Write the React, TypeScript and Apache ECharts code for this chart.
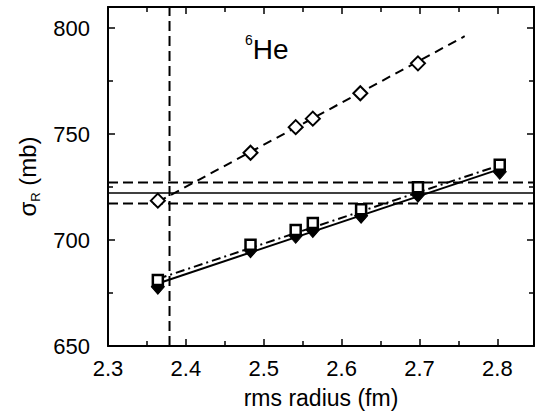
import React, { useEffect, useRef } from "react";
import * as echarts from "echarts";

// Axis ranges / ticks
const xRange = [2.3, 2.847];
const yRange = [650, 810];
const xTickStep = 0.1;
const yTickStep = 50;
const xMajorTicks = [2.3, 2.4, 2.5, 2.6, 2.7, 2.8];
const xMinorTicks = [2.35, 2.45, 2.55, 2.65, 2.75];
const yMajorTicks = [650, 700, 750, 800];
const yMinorTicks = [675, 725, 775];

// Open diamonds (dashed fit)
const radiusOpen = [2.364, 2.483, 2.541, 2.563, 2.624, 2.698];
const sigmaOpenDiamond = [718.6, 741.2, 753.3, 757.3, 769.3, 783.4];

// Open squares (dash-dot fit) and filled diamonds (solid fit)
const radiusClosed = [2.364, 2.483, 2.541, 2.563, 2.625, 2.698, 2.803];
const sigmaSquare = [681.1, 697.8, 704.8, 708.0, 714.6, 724.9, 735.6];
const sigmaFilledDiamond = [678.0, 695.2, 702.0, 704.8, 711.5, 721.4, 732.2];

// Straight fit lines (end points)
const fitOpenX = [2.364, 2.758];
const fitOpenY = [718.0, 796.2];
const fitSquareX = [2.364, 2.803];
const fitSquareY = [681.7, 735.3];
const fitFilledX = [2.364, 2.803];
const fitFilledY = [679.5, 733.5];

// Experimental cross section band (lower, central, upper) and extracted radius
const sigmaExp = [717.3, 722.2, 727.2];
const radiusExtracted = [2.379];

const FONT = "'Liberation Sans', Arial, Helvetica, sans-serif";

// Tick lengths expressed in axis units (about 7 px major, 5 px minor)
const GRID = { left: 108, right: 3, top: 7, bottom: 68 };
const PLOT_W = 537 - GRID.left - GRID.right;
const PLOT_H = 414 - GRID.top - GRID.bottom;
const Y_PER_PX = (yRange[1] - yRange[0]) / PLOT_H;
const X_PER_PX = (xRange[1] - xRange[0]) / PLOT_W;

const zip = (xs: number[], ys: number[]) => xs.map((x, i) => [x, ys[i]]);

const mkLine = () => ({ show: true, onZero: false, lineStyle: { color: "#000", width: 2 } });

export default function App() {
  const ref = useRef<HTMLDivElement>(null);
  useEffect(() => {
    if (!ref.current) return;
    const chart = echarts.init(ref.current, undefined, { renderer: "svg" });
    const xFmt = (v: number) => {
      const k = Math.round((v - xRange[0]) / xTickStep);
      return Math.abs(xRange[0] + k * xTickStep - v) < 1e-6 ? v.toFixed(1) : "";
    };
    const yFmt = (v: number) => (v % yTickStep === 0 ? String(v) : "");

    const tickSegs: any[] = [];
    const addX = (v: number, px: number) => {
      const d = px * Y_PER_PX;
      tickSegs.push([{ coord: [v, yRange[0]] }, { coord: [v, yRange[0] + d] }]);
      tickSegs.push([{ coord: [v, yRange[1]] }, { coord: [v, yRange[1] - d] }]);
    };
    const addY = (v: number, px: number) => {
      const d = px * X_PER_PX;
      tickSegs.push([{ coord: [xRange[0], v] }, { coord: [xRange[0] + d, v] }]);
      tickSegs.push([{ coord: [xRange[1], v] }, { coord: [xRange[1] - d, v] }]);
    };
    xMajorTicks.forEach((v) => addX(v, 7));
    xMinorTicks.forEach((v) => addX(v, 5));
    yMajorTicks.forEach((v) => addY(v, 7));
    yMinorTicks.forEach((v) => addY(v, 5));

    const hLine = (y: number) => [[xRange[0], y], [xRange[1], y]];
    const refLine = (name: string, data: number[][], type: any, width: number) => ({
      type: "line", name, data, showSymbol: false, symbol: "none", silent: true, z: 2,
      lineStyle: { color: "#000", width, type },
    });

    const option: any = {
      animation: false,
      backgroundColor: "#fff",
      grid: { ...GRID },
      xAxis: [
        {
          type: "value", min: xRange[0], max: xRange[1], interval: xTickStep, position: "bottom",
          axisLine: mkLine(), axisTick: { show: false }, splitLine: { show: false },
          axisLabel: { formatter: xFmt, fontSize: 22, color: "#000", fontFamily: FONT, margin: 11, showMaxLabel: false },
          name: "rms radius (fm)", nameLocation: "middle", nameGap: 40,
          nameTextStyle: { fontSize: 23, color: "#000", fontFamily: FONT },
        },
        {
          type: "value", min: xRange[0], max: xRange[1], interval: xTickStep, position: "top",
          axisLine: mkLine(), axisTick: { show: false }, splitLine: { show: false },
          axisLabel: { show: false },
        },
      ],
      yAxis: [
        {
          type: "value", min: yRange[0], max: yRange[1], interval: yTickStep, position: "left",
          axisLine: mkLine(), axisTick: { show: false }, splitLine: { show: false },
          axisLabel: { formatter: yFmt, fontSize: 22, color: "#000", fontFamily: FONT, margin: 18, showMaxLabel: false },
          name: "{s|σ}{r|R}{s| (mb)}", nameLocation: "middle", nameGap: 64, nameRotate: 90,
          nameTextStyle: {
            color: "#000", fontFamily: FONT,
            rich: {
              s: { fontSize: 24, lineHeight: 30, fontFamily: FONT, color: "#000" },
              r: { fontSize: 13, lineHeight: 14, verticalAlign: "bottom", fontFamily: FONT, color: "#000" },
            },
          },
        },
        {
          type: "value", min: yRange[0], max: yRange[1], interval: yTickStep, position: "right",
          axisLine: mkLine(), axisTick: { show: false }, splitLine: { show: false },
          axisLabel: { show: false },
        },
      ],
      graphic: [
        {
          type: "text", left: 245, top: 33, z: 10,
          style: {
            text: "{s|6}{h|He}", fill: "#000",
            rich: {
              s: { fontSize: 14, lineHeight: 14, verticalAlign: "top", fontFamily: FONT, fill: "#000" },
              h: { fontSize: 28, lineHeight: 32, fontFamily: FONT, fill: "#000" },
            },
          },
        },
      ],
      series: [
        {
          type: "line", name: "ticks", data: [], silent: true,
          markLine: {
            silent: true, symbol: ["none", "none"], label: { show: false }, animation: false,
            lineStyle: { type: "solid", width: 1.5, color: "#000" },
            data: tickSegs,
          },
        },
        refLine("sigma lower", hLine(sigmaExp[0]), [10, 5], 2),
        refLine("sigma central", hLine(sigmaExp[1]), "solid", 1.5),
        refLine("sigma upper", hLine(sigmaExp[2]), [10, 5], 2),
        refLine("radius", [[radiusExtracted[0], yRange[0]], [radiusExtracted[0], yRange[1]]], [10, 5], 2),
        {
          type: "line", name: "fit open", data: zip(fitOpenX, fitOpenY), showSymbol: false, symbol: "none",
          lineStyle: { color: "#000", width: 2, type: [9, 6] }, z: 3,
        },
        {
          type: "line", name: "fit filled", data: zip(fitFilledX, fitFilledY), showSymbol: false, symbol: "none",
          lineStyle: { color: "#000", width: 2, type: "solid" }, z: 3,
        },
        {
          type: "line", name: "fit square", data: zip(fitSquareX, fitSquareY), showSymbol: false, symbol: "none",
          lineStyle: { color: "#000", width: 2, type: [9, 4, 2, 4] }, z: 3,
        },
        {
          type: "scatter", name: "open diamonds", data: zip(radiusOpen, sigmaOpenDiamond),
          symbol: "diamond", symbolSize: 14,
          itemStyle: { color: "#fff", borderColor: "#000", borderWidth: 2, opacity: 1 }, z: 5,
        },
        {
          type: "scatter", name: "filled diamonds", data: zip(radiusClosed, sigmaFilledDiamond),
          symbol: "diamond", symbolSize: [13, 15],
          itemStyle: { color: "#000", borderColor: "#000", borderWidth: 1, opacity: 1 }, z: 5,
        },
        {
          type: "scatter", name: "open squares", data: zip(radiusClosed, sigmaSquare),
          symbol: "rect", symbolSize: 10,
          itemStyle: { color: "#fff", borderColor: "#000", borderWidth: 2.5, opacity: 1 }, z: 6,
        },
      ],
    };
    chart.setOption(option);
    return () => chart.dispose();
  }, []);
  return <div ref={ref} style={{ width: 537, height: 414, position: "absolute", left: 0, top: 0 }} />;
}
